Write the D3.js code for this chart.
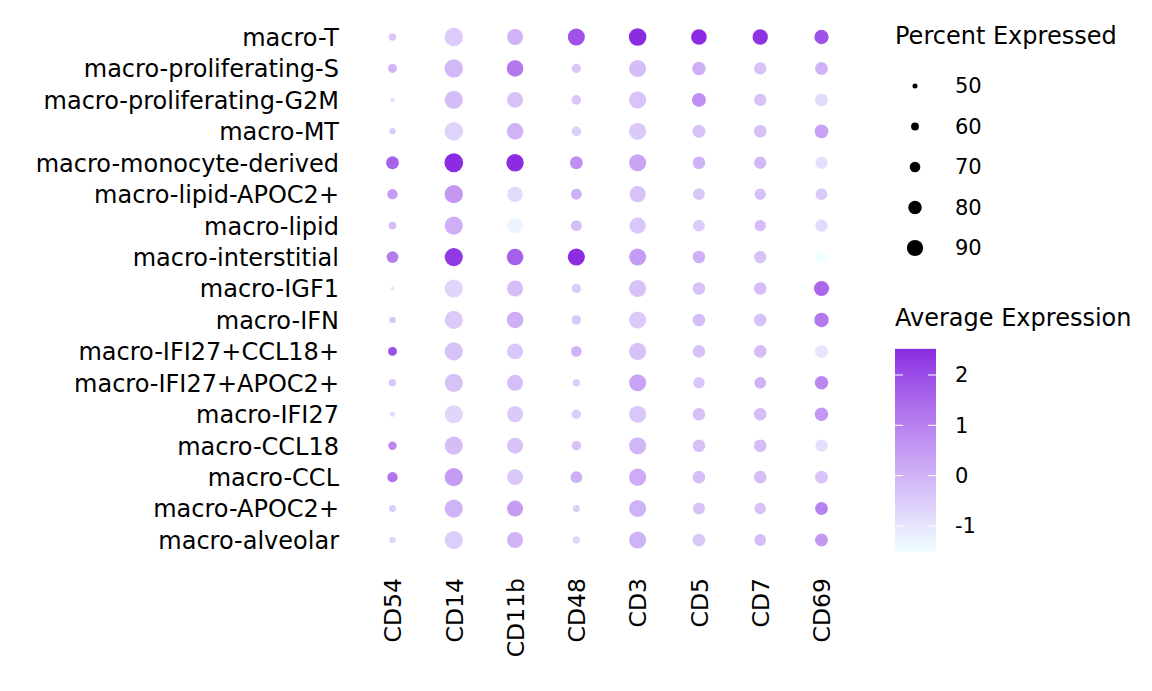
<!DOCTYPE html>
<html>
<head>
<meta charset="utf-8">
<script src="https://cdn.jsdelivr.net/npm/d3@7"></script>
<style>
  html, body { margin: 0; padding: 0; background: #fff; }
  svg { display: block; font-family: "DejaVu Sans", sans-serif; }
</style>
</head>
<body>
<svg id="chart" width="1152" height="691"></svg>
<script>
const genes = ["CD54", "CD14", "CD11b", "CD48", "CD3", "CD5", "CD7", "CD69"];
const clusters = [
  "macro-T", "macro-proliferating-S", "macro-proliferating-G2M", "macro-MT",
  "macro-monocyte-derived", "macro-lipid-APOC2+", "macro-lipid", "macro-interstitial",
  "macro-IGF1", "macro-IFN", "macro-IFI27+CCL18+", "macro-IFI27+APOC2+",
  "macro-IFI27", "macro-CCL18", "macro-CCL", "macro-APOC2+", "macro-alveolar"
];
// percent expressed, rows = clusters, cols = genes
const pctExp = [
  [59, 98, 89, 93, 95, 88, 87, 83],
  [64, 98, 91, 65, 93, 80, 76, 78],
  [47, 97, 89, 66, 93, 82, 76, 78],
  [55, 98, 91, 66, 93, 78, 77, 81],
  [78, 99, 94, 78, 93, 77, 76, 76],
  [69, 97, 87, 71, 90, 74, 73, 74],
  [59, 97, 87, 71, 90, 74, 73, 76],
  [74, 97, 91, 93, 93, 77, 76, 74],
  [45, 97, 89, 66, 93, 77, 77, 86],
  [55, 97, 91, 66, 93, 77, 77, 84],
  [64, 97, 89, 70, 93, 77, 77, 78],
  [59, 97, 89, 59, 93, 73, 74, 80],
  [50, 97, 89, 66, 93, 77, 77, 80],
  [62, 97, 89, 66, 93, 77, 77, 76],
  [69, 97, 89, 74, 93, 77, 77, 78],
  [57, 97, 89, 57, 93, 75, 73, 78],
  [55, 97, 89, 59, 93, 77, 74, 78]
];
// scaled average expression
const avgExp = [
  [-0.4, -0.5, 0, 1.9, 2.5, 2.5, 2.4, 1.9],
  [0, -0.1, 1.2, -0.4, -0.2, 0.1, -0.3, 0],
  [-0.8, -0.2, -0.3, -0.4, -0.35, 0.7, -0.3, -0.8],
  [-0.5, -0.65, 0, -0.55, -0.45, -0.3, -0.3, 0.35],
  [1.6, 2.5, 2.5, 0.7, 0.3, 0, -0.1, -0.9],
  [0.5, 0.55, -0.8, 0.05, -0.3, -0.4, -0.3, -0.45],
  [-0.2, 0.1, -1.3, -0.2, -0.4, -0.5, -0.2, -0.8],
  [1.1, 2.3, 1.65, 2.5, 0.45, 0.05, -0.3, -1.52],
  [-0.9, -0.7, -0.2, -0.5, -0.3, -0.3, -0.2, 1.5],
  [-0.4, -0.45, 0.1, -0.4, -0.45, -0.2, -0.3, 1.15],
  [1.95, -0.3, -0.4, 0, -0.3, -0.3, -0.2, -1.0],
  [-0.4, -0.3, -0.2, -0.55, 0.3, -0.4, 0, 0.9],
  [-0.8, -0.7, -0.45, -0.55, -0.4, -0.3, -0.2, 0.55],
  [0.9, -0.2, -0.3, -0.3, -0.05, -0.3, -0.2, -0.9],
  [1.25, 0.45, -0.4, 0.1, 0.15, -0.2, -0.2, -0.35],
  [-0.55, 0, 0.45, -0.55, 0, -0.3, -0.3, 1.0],
  [-0.7, -0.55, 0, -0.7, 0, -0.4, -0.2, 0.55]
];
const sizeBreaks = [50, 60, 70, 80, 90];
const colorBreaks = [2, 1, 0, -1];
const colorLimits = [-1.52, 2.52];
const lowColor = "#F0FFFF";   // azure
const highColor = "#8A2BE2";  // blueviolet

const svg = d3.select("#chart");

const x = d3.scalePoint().domain(genes).range([392.5, 821.5]);
const y = d3.scalePoint().domain(clusters).range([37, 540]);
const r = d3.scaleLinear().domain([32, 100]).range([0, 9.52]);
const color = d3.scaleLinear().domain(colorLimits).range([lowColor, highColor])
  .interpolate(d3.interpolateLab).clamp(true);

const cells = [];
clusters.forEach((c, i) => genes.forEach((g, j) => {
  cells.push({ cluster: c, gene: g, pct: pctExp[i][j], avg: avgExp[i][j] });
}));

svg.append("g").selectAll("circle").data(cells).join("circle")
  .attr("cx", d => x(d.gene))
  .attr("cy", d => y(d.cluster))
  .attr("r", d => r(d.pct))
  .attr("fill", d => color(d.avg));

// Y axis labels
const yAxis = d3.axisLeft(y).tickSize(0).tickPadding(0);
const gy = svg.append("g").attr("transform", "translate(339,0)").call(yAxis);
gy.select(".domain").remove();
gy.selectAll("text").attr("font-size", 24).attr("fill", "#000")
  .attr("font-family", "DejaVu Sans").attr("dy", "0.35em");

// X axis labels
const xAxis = d3.axisBottom(x).tickSize(0).tickPadding(0);
const gx = svg.append("g").attr("transform", "translate(0,578)").call(xAxis);
gx.select(".domain").remove();
gx.selectAll("text").attr("font-size", 23.5).attr("fill", "#000")
  .attr("font-family", "DejaVu Sans")
  .attr("transform", "rotate(-90)")
  .attr("text-anchor", "end")
  .attr("x", 0).attr("y", 0).attr("dy", "0.35em");

// Size legend
const lg = svg.append("g");
lg.append("text").attr("x", 895).attr("y", 36).attr("dy", "0.35em")
  .attr("font-size", 24).text("Percent Expressed");
const ly = d3.scalePoint().domain(sizeBreaks).range([86, 248]);
lg.selectAll("circle").data(sizeBreaks).join("circle")
  .attr("cx", 915).attr("cy", d => ly(d)).attr("r", d => r(d)).attr("fill", "#000");
lg.selectAll("text.lab").data(sizeBreaks).join("text").attr("class", "lab")
  .attr("x", 955).attr("y", d => ly(d)).attr("dy", "0.35em")
  .attr("font-size", 21).text(d => d);

// Color legend
const cg = svg.append("g");
cg.append("text").attr("x", 895).attr("y", 318).attr("dy", "0.35em")
  .attr("font-size", 24).text("Average Expression");
const cy = d3.scaleLinear().domain([2, -1]).range([375, 526]);
const defs = svg.append("defs");
const grad = defs.append("linearGradient").attr("id", "cbar")
  .attr("x1", 0).attr("y1", 1).attr("x2", 0).attr("y2", 0);
d3.range(0, 21).forEach(k => {
  const t = k / 20;
  grad.append("stop").attr("offset", t)
    .attr("stop-color", color(colorLimits[0] + t * (colorLimits[1] - colorLimits[0])));
});
const barTop = cy(colorLimits[1]), barBot = cy(colorLimits[0]);
cg.append("rect").attr("x", 895).attr("y", barTop).attr("width", 41)
  .attr("height", barBot - barTop).attr("fill", "url(#cbar)");
colorBreaks.forEach(b => {
  cg.append("line").attr("x1", 895).attr("x2", 903).attr("y1", cy(b)).attr("y2", cy(b))
    .attr("stroke", "#fff").attr("stroke-width", 1);
  cg.append("line").attr("x1", 928).attr("x2", 936).attr("y1", cy(b)).attr("y2", cy(b))
    .attr("stroke", "#fff").attr("stroke-width", 1);
});
cg.selectAll("text.lab").data(colorBreaks).join("text").attr("class", "lab")
  .attr("x", 955).attr("y", d => cy(d)).attr("dy", "0.35em")
  .attr("font-size", 21).text(d => d);
</script>
</body>
</html>
